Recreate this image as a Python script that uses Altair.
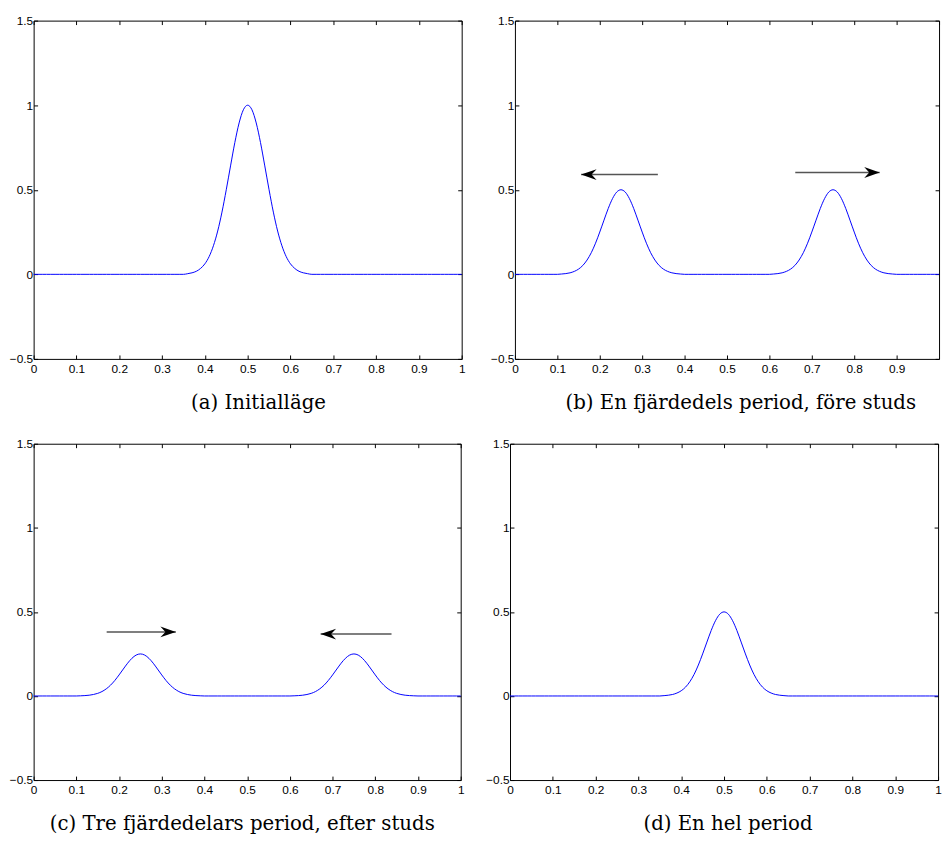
import altair as alt
import pandas as pd

# ---- data ----
x_ticks = [0, 0.1, 0.2, 0.3, 0.4, 0.5, 0.6, 0.7, 0.8, 0.9, 1]
x_ticks_cut = [0, 0.1, 0.2, 0.3, 0.4, 0.5, 0.6, 0.7, 0.8, 0.9]  # panel (b): "1" is cut off
y_ticks = [-0.5, 0, 0.5, 1, 1.5]

# pulse profile (unit height), sampled at offsets -0.15 ... +0.15 in steps of 0.01
profile = [0, 0.004, 0.009, 0.018, 0.035, 0.062, 0.105, 0.169, 0.256, 0.368,
           0.500, 0.641, 0.779, 0.895, 0.973, 1.000, 0.973, 0.895, 0.779, 0.641,
           0.500, 0.368, 0.256, 0.169, 0.105, 0.062, 0.035, 0.018, 0.009, 0.004, 0]

panel_titles = ["(a) Initialläge",
                "(b) En fjärdedels period, före studs",
                "(c) Tre fjärdedelars period, efter studs",
                "(d) En hel period"]
bump_centers = [[0.5], [0.25, 0.75], [0.25, 0.75], [0.5]]
bump_heights = [[1.0], [0.5, 0.5], [0.25, 0.25], [0.5]]

arrow_tails = [[], [0.337, 0.661], [0.171, 0.838], []]
arrow_tips = [[], [0.156, 0.860], [0.333, 0.672], []]
arrow_ys = [[], [0.590, 0.602], [0.381, 0.368], []]

title_dx = [11, 14, -5, 4]
panel_widths = [434, 430, 433, 434]
panel_heights = [343, 343, 341, 341]
panel_xlabels = [x_ticks, x_ticks_cut, x_ticks, x_ticks]

HEAD_RIGHT = "M 0 0 L -2 -0.7 L -1.35 0 L -2 0.7 Z"
HEAD_LEFT = "M 0 0 L 2 -0.7 L 1.35 0 L 2 0.7 Z"


def wave_table(i):
    n = 100
    half = (len(profile) - 1) // 2
    rows = []
    for k in range(n + 1):
        y = 0.0
        for c, h in zip(bump_centers[i], bump_heights[i]):
            j = k - int(round(c * n)) + half
            if 0 <= j < len(profile):
                y += h * profile[j]
        rows.append({"x": k / n, "y": y})
    return pd.DataFrame(rows)


def make_axis(orient, values, labels, pad=0):
    kw = dict(orient=orient, values=values, tickSize=4, offset=-4,
              domain=False, grid=False, title=None, labels=labels,
              ticks=True, tickColor="black", tickWidth=1,
              minExtent=0, maxExtent=60)
    if labels:
        kw.update(format="~g", labelOverlap=False, labelFlush=False,
                  labelFont="Liberation Sans", labelFontSize=12,
                  labelColor="black", labelPadding=pad)
    return alt.Axis(**kw)


def panel(i):
    df = wave_table(i)
    xs = alt.Scale(domain=[0, 1], nice=False, zero=False)
    ys = alt.Scale(domain=[-0.5, 1.5], nice=False, zero=False)
    line = alt.Chart(df).mark_line(color="#0000ff", strokeWidth=1,
                                   interpolate="monotone").encode(
        x=alt.X("x:Q", scale=xs,
                axis=make_axis("bottom", panel_xlabels[i], True, 5)),
        y=alt.Y("y:Q", scale=ys, axis=make_axis("left", y_ticks, True, 1)),
    )
    frame = alt.Chart(df).mark_point(opacity=0, size=1).encode(
        x=alt.X("x:Q", scale=xs, axis=make_axis("top", x_ticks, False)),
        y=alt.Y("y:Q", scale=ys, axis=make_axis("right", y_ticks, False)),
    )
    layers = [line, frame]
    for t0, t1, ay in zip(arrow_tails[i], arrow_tips[i], arrow_ys[i]):
        adf = pd.DataFrame({"tail": [t0], "tip": [t1], "y": [ay]})
        shaft = alt.Chart(adf).mark_rule(color="#555555", strokeWidth=1.5).encode(
            x=alt.X("tail:Q", scale=xs, axis=None),
            x2="tip:Q",
            y=alt.Y("y:Q", scale=ys, axis=None),
        )
        head = alt.Chart(adf).mark_point(
            shape=HEAD_RIGHT if t1 > t0 else HEAD_LEFT,
            filled=True, color="black", opacity=1, size=246, strokeWidth=0,
        ).encode(
            x=alt.X("tip:Q", scale=xs, axis=None),
            y=alt.Y("y:Q", scale=ys, axis=None),
        )
        layers += [shaft, head]
    return alt.layer(*layers).resolve_axis(
        x="independent", y="independent"
    ).properties(
        width=panel_widths[i], height=panel_heights[i],
        view=alt.ViewBackground(stroke="black", strokeWidth=1),
        title=alt.TitleParams(text=panel_titles[i], orient="bottom",
                              anchor="middle", font="DejaVu Serif",
                              fontSize=20, fontWeight="normal", color="black",
                              offset=19, dx=title_dx[i]),
    )


row1 = alt.hconcat(panel(0), panel(1), spacing=54, bounds="flush")
row2 = alt.hconcat(panel(2), panel(3), spacing=50, bounds="flush")

chart = alt.vconcat(row1, row2, spacing=23).properties(
    padding={"left": 0, "top": 0, "right": 0, "bottom": 0},
    background="white",
)

chart.save("out.html", embed_options={"renderer": "svg", "actions": False})
